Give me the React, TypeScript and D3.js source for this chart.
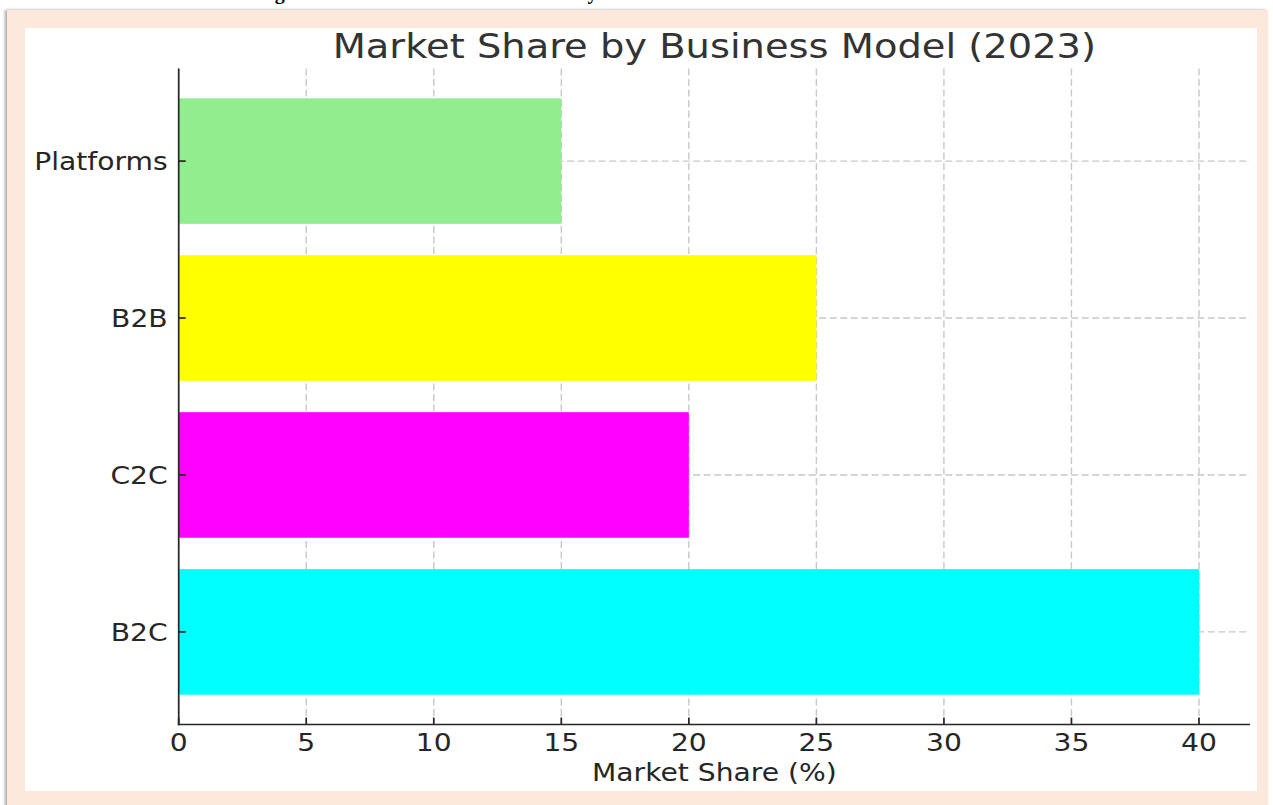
import React from 'react';
import * as d3 from 'd3';

const categories = ['B2C', 'C2C', 'B2B', 'Platforms'];
const values = [40, 20, 25, 15];
const barColors = ['#00ffff', '#ff00ff', '#ffff00', '#90ee90'];
const xTicks = [0, 5, 10, 15, 20, 25, 30, 35, 40];
const titleText = 'Market Share by Business Model (2023)';
const xLabelText = 'Market Share (%)';
const captionText = 'Figure 5: E-commerce Market Share by Business Model';

export default function App() {
  const W = 1273;
  const H = 805;
  const x = d3.scaleLinear().domain([0, 42]).range([178.7, 1250]);
  const y = d3.scaleLinear().domain([-0.59, 3.59]).range([724.5, 68.5]);
  const sx = 1.15;
  const textColor = '#262626';
  const font = '"DejaVu Sans", sans-serif';
  const tickSize = 24.5;
  const [x0, x1] = x.range();
  const [yBottom, yTop] = y.range();

  return (
    <svg
      width={W}
      height={H}
      style={{ position: 'absolute', left: 0, top: 0, display: 'block', background: '#ffffff' }}
    >
      <defs>
        <filter id="shadow" x="-5%" y="-5%" width="110%" height="110%">
          <feDropShadow dx="-2" dy="0" stdDeviation="1.5" floodColor="#808080" floodOpacity="0.7" />
        </filter>
      </defs>
      <text
        x={257}
        y={-1}
        fontFamily='"Liberation Serif", serif'
        fontWeight="bold"
        fontSize={20}
        fill="#000"
      >
        {captionText}
      </text>
      <rect x={7} y={10} width={1261} height={800} fill="#fce9db" filter="url(#shadow)" />
      <rect x={25} y={28} width={1232} height={763} fill="#ffffff" />

      {/* grid */}
      <g stroke="#c8c8c8" strokeWidth={1.4} strokeDasharray="7,3.5">
        {xTicks.map((t) => (
          <line key={'gx' + t} x1={x(t)} x2={x(t)} y1={yTop} y2={yBottom} />
        ))}
        {categories.map((c, i) => (
          <line key={'gy' + c} x1={x0} x2={x1} y1={y(i)} y2={y(i)} />
        ))}
      </g>

      {/* bars */}
      {categories.map((c, i) => (
        <rect
          key={'b' + c}
          x={x(0)}
          y={y(i + 0.4)}
          width={x(values[i]) - x(0)}
          height={y(i - 0.4) - y(i + 0.4)}
          fill={barColors[i]}
        />
      ))}

      {/* axes */}
      <g stroke={textColor} strokeWidth={1.7}>
        <line x1={x0} x2={x0} y1={yTop} y2={yBottom + 0.85} />
        <line x1={x0 - 0.85} x2={x1} y1={yBottom} y2={yBottom} />
        {xTicks.map((t) => (
          <line key={'tx' + t} x1={x(t)} x2={x(t)} y1={yBottom} y2={yBottom - 7} />
        ))}
        {categories.map((c, i) => (
          <line key={'ty' + c} x1={x0} x2={x0 + 7} y1={y(i)} y2={y(i)} />
        ))}
      </g>

      {/* tick labels */}
      <g fontFamily={font} fontSize={tickSize} fill={textColor}>
        {xTicks.map((t) => (
          <text
            key={'lx' + t}
            textAnchor="middle"
            transform={`translate(${x(t)},${yBottom + 26.5}) scale(${sx},1)`}
          >
            {String(t)}
          </text>
        ))}
        {categories.map((c, i) => (
          <text
            key={'ly' + c}
            textAnchor="end"
            transform={`translate(${x0 - 11},${y(i) + 9}) scale(${sx},1)`}
          >
            {c}
          </text>
        ))}
      </g>

      <text
        fontFamily={font}
        fontSize={tickSize}
        fill={textColor}
        textAnchor="middle"
        transform={`translate(${(x0 + x1) / 2},${781}) scale(${sx},1)`}
      >
        {xLabelText}
      </text>

      <text
        fontFamily={font}
        fontSize={33.4}
        fill="#333333"
        textAnchor="middle"
        transform={`translate(${(x0 + x1) / 2},${58}) scale(${sx},1)`}
      >
        {titleText}
      </text>
    </svg>
  );
}
